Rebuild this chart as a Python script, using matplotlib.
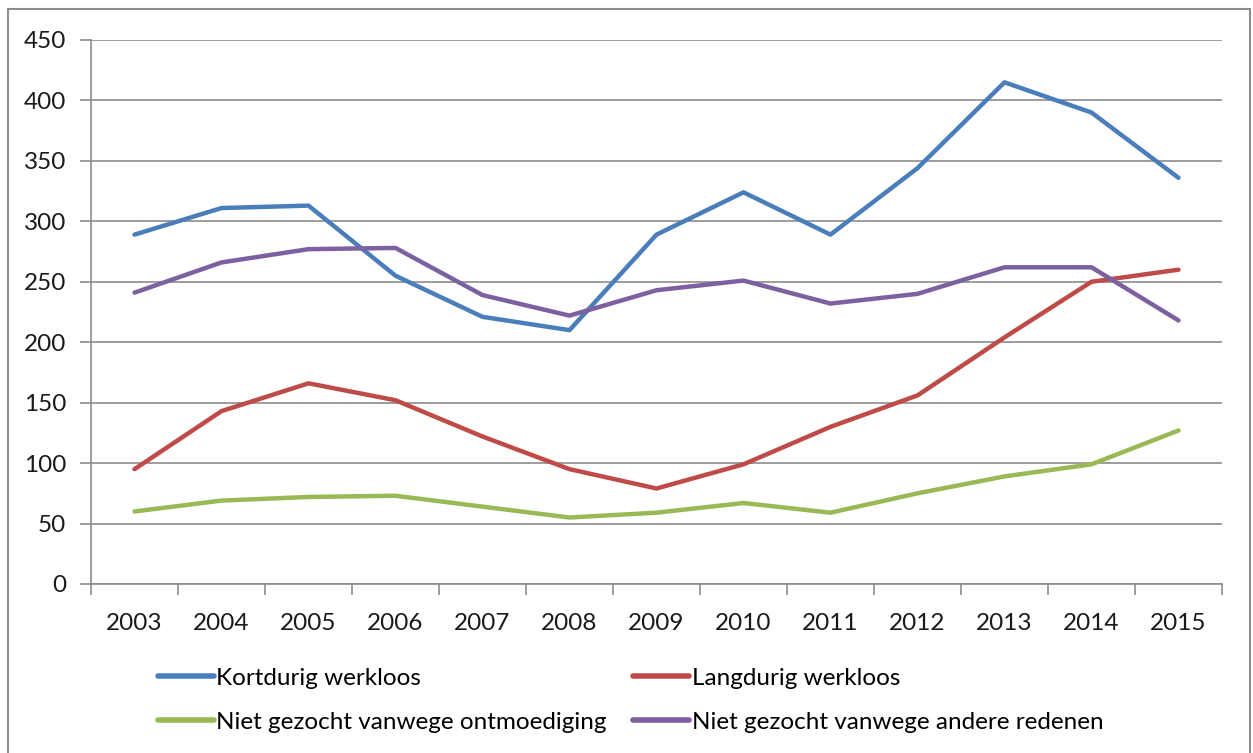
import matplotlib.pyplot as plt
from matplotlib.patches import Rectangle

plt.rcParams['font.family'] = ['Lato', 'DejaVu Sans']

# Data
jaren = ['2003', '2004', '2005', '2006', '2007', '2008', '2009',
         '2010', '2011', '2012', '2013', '2014', '2015']
kortdurig = [289, 311, 313, 255, 221, 210, 289, 324, 289, 344, 415, 390, 336]
langdurig = [95, 143, 166, 152, 122, 95, 79, 99, 130, 156, 204, 250, 260]
ontmoediging = [60, 69, 72, 73, 64, 55, 59, 67, 59, 75, 89, 99, 127]
andere_redenen = [241, 266, 277, 278, 239, 222, 243, 251, 232, 240, 262, 262, 218]

series = [
    ('Kortdurig werkloos', kortdurig, '#4A7EBB'),
    ('Langdurig werkloos', langdurig, '#BE4B48'),
    ('Niet gezocht vanwege ontmoediging', ontmoediging, '#98B954'),
    ('Niet gezocht vanwege andere redenen', andere_redenen, '#7D60A0'),
]

fig = plt.figure(figsize=(12.53, 7.53), dpi=100)

# chart frame (bottom edge runs off the image)
fig.patches.append(Rectangle((8 / 1253, -0.05), 1242 / 1253, 1.05 - 9 / 753,
                             transform=fig.transFigure, fill=False,
                             edgecolor='#8c8c8c', linewidth=1.5))

ax = fig.add_axes([91 / 1253, 1 - 584 / 753, 1131 / 1253, 544 / 753])

x = list(range(len(jaren)))
lines = []
for label, values, color in series:
    ln, = ax.plot(x, values, color=color, linewidth=3.2, label=label,
                  solid_capstyle='round', solid_joinstyle='round')
    lines.append(ln)

ax.set_xlim(-0.5, len(jaren) - 0.5)
ax.set_ylim(0, 450)
ax.set_yticks(range(0, 451, 50))
ax.set_xticks(x)
ax.set_xticklabels(jaren)
ax.set_xticks([i - 0.5 for i in range(len(jaren) + 1)], minor=True)

ax.grid(axis='y', color='#8c8c8c', linewidth=1.2)
ax.set_axisbelow(True)
for side in ['top', 'right']:
    ax.spines[side].set_visible(False)
for side in ['left', 'bottom']:
    ax.spines[side].set_color('#8c8c8c')
    ax.spines[side].set_linewidth(1.2)

ax.tick_params(axis='x', which='major', length=0, pad=21, labelsize=17.5, colors='#1a1a1a')
ax.tick_params(axis='x', which='minor', length=8, width=1.2, color='#8c8c8c')
ax.tick_params(axis='y', length=8, width=1.2, color='#8c8c8c', pad=10,
               labelsize=17.5, labelcolor='#1a1a1a')

# legend filled per row: order handles for column-major filling
order = [0, 2, 1, 3]
leg = fig.legend([lines[i] for i in order], [series[i][0] for i in order],
                 loc='upper left', bbox_to_anchor=(148 / 1253, 1 - 658 / 753),
                 ncol=2, frameon=False, fontsize=17.5, handlelength=2.3,
                 handletextpad=0.1, columnspacing=1.1, labelspacing=0.95,
                 borderaxespad=0)
for line in leg.get_lines():
    line.set_linewidth(4)

plt.savefig('out.png', dpi=100)
